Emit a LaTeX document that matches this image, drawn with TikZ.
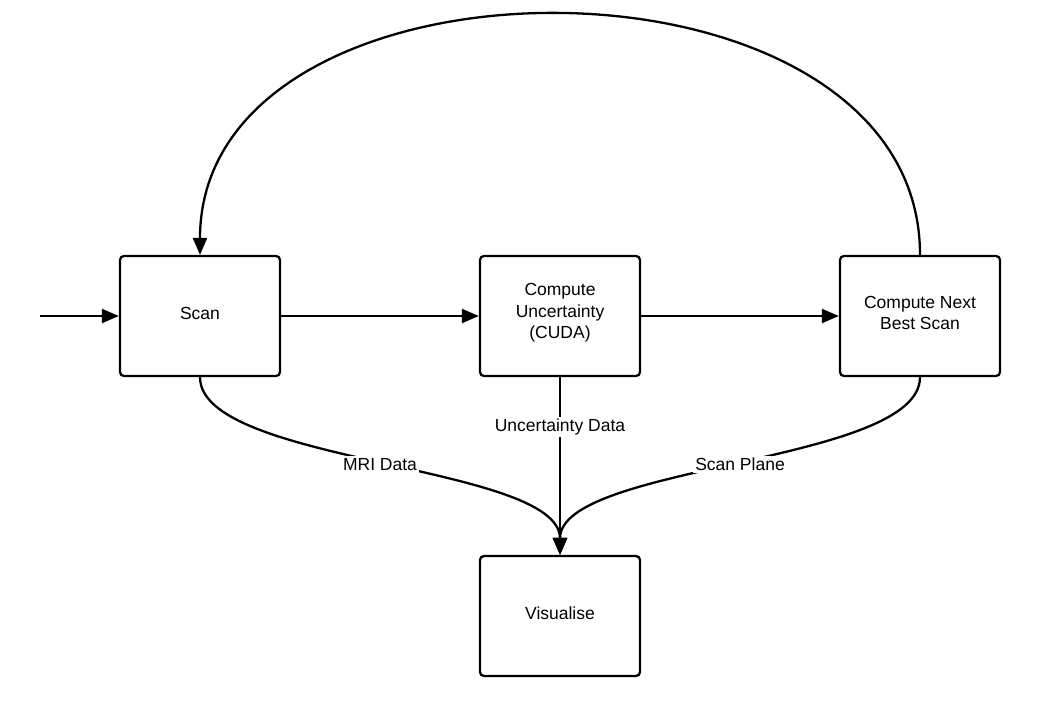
\documentclass[tikz,border=0pt]{standalone}
\usepackage{fontspec}
\setmainfont{Liberation Sans}
\usetikzlibrary{arrows.meta}
\begin{document}
\begin{tikzpicture}[x=1pt,y=-1pt,
  proc/.style={draw=black, line width=2.3pt, rounded corners=4pt, fill=white,
    minimum width=160pt, minimum height=120pt, inner sep=0pt},
  proctext/.style={align=center, inner sep=0pt, yshift=3pt,
    font=\fontsize{17.5}{21.5}\selectfont},
  flow/.style={line width=2.3pt, -{Triangle[length=17pt,width=14pt]}},
  edgelabel/.style={fill=white, inner sep=2pt, font=\fontsize{17.5}{21.5}\selectfont}]
\useasboundingbox (0,0) rectangle (1040,716);

% process boxes
\node[proc] (scan) at (200,316) {};
\node[proc] (unc)  at (560,316) {};
\node[proc] (next) at (920,316) {};
\node[proc] (vis)  at (560,616) {};
\node[proctext] (scant) at (scan) {Scan};
\node[proctext] (unct)  at (unc)  {Compute\\Uncertainty\\(CUDA)};
\node[proctext] (nextt) at (next) {Compute Next\\Best Scan};
\node[proctext] (vist)  at (vis)  {Visualise};

\coordinate (in) at (40,316);

% main pipeline
\draw[flow] (in) -- (scan.west);
\draw[flow] (scan.east) -- (unc.west);
\draw[flow] (unc.east) -- (next.west);

% feedback loop
\draw[flow] (next.north) .. controls (920,-65) and (200,-65) .. (scan.north);

% data sent to visualisation
\draw[flow] (scan.south) .. controls (200,464) and (560,464) .. (vis.north)
  node[edgelabel, pos=0.5] {MRI Data};
\draw[flow] (unc.south) -- (vis.north)
  node[edgelabel, pos=0.28] {Uncertainty Data};
\draw[flow] (next.south) .. controls (920,464) and (560,464) .. (vis.north)
  node[edgelabel, pos=0.5] {Scan Plane};
\end{tikzpicture}
\end{document}
